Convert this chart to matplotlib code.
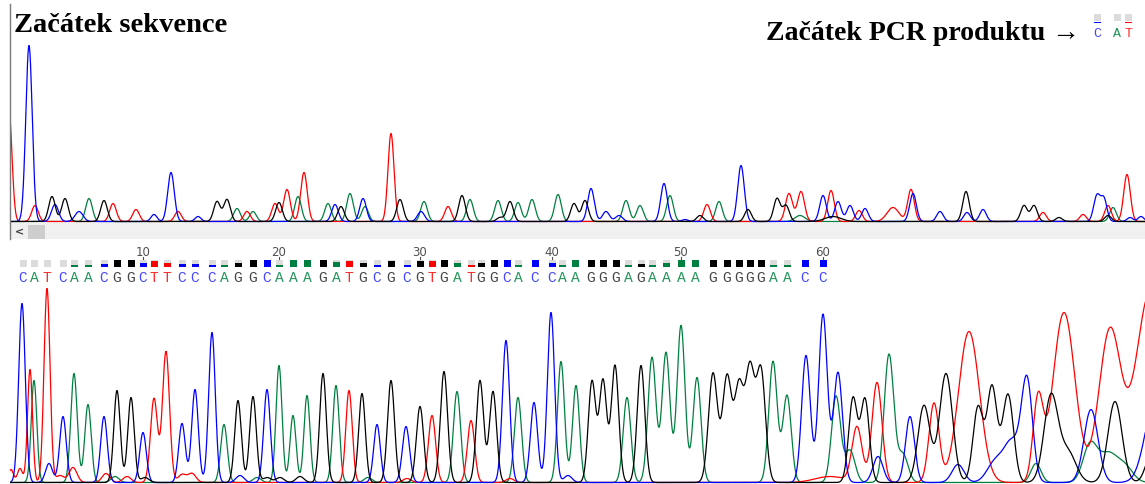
"""plot.py: sequencing chromatogram, start of read vs start of PCR product."""

import numpy as np
import matplotlib as mpl
import matplotlib.pyplot as plt
from matplotlib.patches import Rectangle

mpl.rcParams['font.family'] = ['DejaVu Sans']

# --- data -------------------------------------------------------------
# peaks per channel: (scan position, height, width)
top_a = [(89, 23, 3.3), (237, 13, 3.3), (253, 10, 3.3), (298, 25, 3.3), (328, 18, 3.3),
         (350, 28, 3.3), (365, 15, 3.3), (424, 20, 3.3), (470, 22, 3.3), (498, 21, 3.3),
         (518, 19, 3.3), (532, 22, 3.3), (558, 27, 3.3), (626, 21, 3.3), (640, 16, 3.3),
         (670, 26, 3.3), (719, 20, 3.3), (800, 6, 5), (1113, 14, 3.3)]
top_c = [(29, 176, 3.2), (55, 17, 3.5), (79, 10, 4), (154, 7, 3), (171, 49, 3.3),
         (198, 5, 3), (335, 17, 3.3), (363, 23, 3.3), (421, 10, 3.5), (591, 33, 3.3),
         (606, 10, 3.5), (619, 6, 3.5), (664, 38, 3.3), (685, 2, 3), (741, 56, 3.3),
         (823, 26, 3.3), (838, 20, 3.3), (850, 16, 3.3), (865, 13, 3.3), (913, 28, 3.3),
         (940, 10, 3.3), (967, 9, 3.3), (983, 12, 3.3), (1097, 26, 3.3), (1104, 22, 3),
         (1130, 4, 3), (1141, 5, 3)]
top_g = [(52, 25, 3.3), (65, 23, 3.3), (104, 21, 3.3), (217, 20, 3.3), (227, 22, 3.3),
         (279, 19, 3.3), (341, 15, 3.3), (400, 22, 3.3), (462, 26, 3.3), (500, 4, 3.3),
         (510, 20, 3.3), (574, 18, 3.3), (585, 21, 3.3), (700, 6, 3.3), (748, 12, 3.3),
         (777, 23, 3.3), (786, 16, 3.3), (833, 5, 8), (966, 30, 3.3), (1024, 16, 3.3),
         (1034, 16, 3.3), (1059, 4, 3.3), (1108, 6, 3.3)]
top_t = [(9, 110, 3), (35, 16, 3.3), (113, 18, 3.3), (136, 12, 3.3), (178, 10, 3.3),
         (247, 10, 3.3), (275, 18, 3.3), (287, 32, 3.3), (304, 49, 3.3), (391, 88, 3),
         (448, 15, 3.3), (707, 17, 3.3), (789, 28, 3.5), (801, 30, 3.5), (831, 31, 3.3),
         (859, 11, 3.3), (893, 14, 6), (911, 32, 3.3), (1043, 9, 3.3), (1083, 7, 3.3),
         (1108, 16, 3.3), (1127, 47, 3.3)]

bot_a = [(34, 102, 2.8), (74, 109, 3.2), (88, 78, 3.2), (115, 6, 4), (224, 58, 3.3),
         (257, 5, 4), (279, 117, 3), (293, 67, 3), (307, 87, 3), (336, 97, 3.2),
         (368, 5, 4), (457, 91, 3.6), (518, 85, 3.6), (561, 121, 3.5), (576, 97, 3.5),
         (627, 85, 3.8), (652, 125, 4), (666, 130, 4), (681, 157, 4), (697, 105, 4),
         (773, 121, 4.2), (787, 87, 4.2), (836, 86, 4.5), (850, 32, 5), (889, 128, 4.8),
         (903, 28, 5), (1036, 19, 5), (1090, 37, 7), (1108, 28, 9), (1125, 15, 8)]
bot_c = [(22, 179, 3.3), (49, 19, 3.5), (63, 66, 3.3), (104, 66, 3.3), (143, 50, 3.3),
         (182, 59, 3.3), (195, 93, 3.3), (212, 150, 3.3), (240, 7, 4), (267, 93, 3.3),
         (377, 58, 3.3), (406, 56, 3.6), (506, 142, 3.6), (534, 80, 3.6), (551, 170, 3.6),
         (568, 7, 4), (806, 127, 4.3), (823, 168, 4.3), (838, 110, 4.5), (878, 26, 5),
         (910, 66, 4.5), (958, 18, 6), (995, 20, 8), (1012, 40, 8), (1027, 100, 5.5),
         (1091, 73, 7), (1155, 80, 10)]
bot_g = [(117, 92, 3.2), (131, 85, 3.2), (145, 5, 4), (238, 82, 3.3), (253, 86, 3.3),
         (267, 5, 4), (280, 5, 4), (300, 6, 4), (323, 109, 3.3), (362, 89, 3.3),
         (391, 102, 3.5), (420, 76, 3.6), (444, 111, 3.6), (480, 102, 3.6), (493, 91, 3.6),
         (592, 101, 3.7), (603, 102, 3.7), (615, 117, 3.7), (641, 117, 3.8), (713, 109, 4.5),
         (727, 105, 4.5), (739, 95, 4.5), (750, 111, 4.5), (761, 111, 4.5), (853, 84, 4.3),
         (865, 83, 4.3), (924, 77, 6), (946, 109, 6.5), (978, 75, 5), (992, 95, 5),
         (1008, 88, 5.5), (1051, 86, 7), (1068, 30, 8), (1115, 81, 7), (1152, 30, 6)]
bot_t = [(11, 13, 2.5), (20, 14, 2.5), (30, 113, 2.5), (47, 194, 3), (60, 7, 4),
         (73, 15, 4), (106, 9, 4), (127, 6, 4), (154, 84, 3.5), (166, 131, 3.5),
         (182, 8, 4), (192, 9, 4), (349, 92, 3.2), (407, 4, 4), (432, 67, 3.6),
         (471, 62, 3.6), (510, 4, 4), (830, 6, 15), (857, 55, 5), (877, 100, 5),
         (934, 79, 5), (969, 151, 10.5), (1038, 80, 5), (1064, 170, 11),
         (1110, 152, 11), (1150, 190, 14)]

# base calls
bases = "CATCAACGGCTTCCCAGGCAAAGATGCGCGTGATGGCACCAAGGGAGAAAAGGGGGAACC"
base_pos = [23, 34, 47, 63, 74, 88, 104, 117, 131, 143,
            154, 167, 182, 195, 212, 224, 238, 253, 267, 279,
            293, 307, 323, 336, 349, 363, 377, 391, 407, 420,
            432, 444, 457, 471, 481, 494, 507, 518, 535, 552,
            562, 575, 591, 603, 616, 628, 641, 652, 666, 681,
            695, 713, 727, 739, 750, 761, 773, 787, 805, 823]
quality = [0, 0, 0, 0, .25, .25, .4, 1, 1, .6,
           .8, .6, .4, .4, .3, .3, .6, 1, 1, .3,
           1, 1, 1, .7, .9, .55, .3, .9, .35, .85,
           .9, 1, .55, .2, .55, 1, 1, .35, 1, .6,
           .35, 1, 1, 1, 1, .35, .5, .2, .6, 1,
           1, 1, 1, 1, 1, 1, .35, .35, 1, 1]
tick_every = 10

# the three bases shown next to the PCR-product label
pcr_bases = "CAT"
pcr_quality = [.25, 0, .25]

title_left = "Začátek sekvence"
title_right = "Začátek PCR produktu \u2192"

# --- style ------------------------------------------------------------
W, H = 1145, 485
trace_col = {'A': '#008040', 'C': '#0000ff', 'G': '#000000', 'T': '#ff0000'}
letter_col = {'A': '#22965a', 'C': '#4646ff', 'G': '#454545', 'T': '#ff2a2a'}
XMIN, XMAX = 10, 1145


def px_axes(fig, x0, y0, x1, y1):
    """axes from a pixel box (top-left origin)"""
    return fig.add_axes([x0 / W, 1 - y1 / H, (x1 - x0) / W, (y1 - y0) / H])


def trace(xs, peaks):
    y = np.zeros_like(xs)
    for p, h, w in peaks:
        y += h * np.exp(-0.5 * ((xs - p) / w) ** 2)
    return y


def draw_traces(ax, chans):
    xs = np.arange(0, 1170, 0.25)
    for b in ['A', 'T', 'C', 'G']:
        ax.plot(xs, trace(xs, chans[b]), color=trace_col[b], lw=0.9,
                solid_joinstyle='round')


def main():
    fig = plt.figure(figsize=(W / 100, H / 100), dpi=100)
    fig.patch.set_facecolor('white')

    # top trace
    ax1 = px_axes(fig, XMIN, 4, XMAX, 224)
    draw_traces(ax1, {'A': top_a, 'C': top_c, 'G': top_g, 'T': top_t})
    ax1.set_xlim(XMIN, XMAX)
    ax1.set_ylim(-1.5, 218.5)
    ax1.axis('off')

    # scrollbar
    sb = px_axes(fig, XMIN, 224, XMAX, 240)
    sb.set_xlim(XMIN, XMAX)
    sb.set_ylim(240, 224)
    sb.set_facecolor('#f0f0f0')
    sb.add_patch(Rectangle((28, 226), 17, 14, color='#cdcdcd', lw=0))
    sb.text(19, 232, '<', ha='center', va='center', fontsize=8, color='#404040',
            fontweight='bold')
    sb.set_xticks([])
    sb.set_yticks([])
    for s in sb.spines.values():
        s.set_visible(False)

    # left border line of the viewer
    fig.add_artist(plt.Line2D([10.5 / W, 10.5 / W], [1 - 240 / H, 1 - 5 / H],
                              color='#7a7a7a', lw=1.0))

    # base calls
    ax2 = px_axes(fig, XMIN, 244, XMAX, 286)
    ax2.set_xlim(XMIN, XMAX)
    ax2.set_ylim(286, 244)
    ax2.axis('off')
    for i, (b, x, q) in enumerate(zip(bases, base_pos, quality)):
        ax2.add_patch(Rectangle((x - 3.5, 261), 7, 7, color='#dcdcdc', lw=0))
        if q > 0:
            hq = max(1.6, 7 * q)
            ax2.add_patch(Rectangle((x - 3.5, 268 - hq), 7, hq,
                                    color=trace_col[b], lw=0))
        ax2.text(x, 278.5, b, ha='center', va='center', fontsize=10.5,
                 family='Liberation Mono', color=letter_col[b])
        if (i + 1) % tick_every == 0:
            ax2.text(x, 253, str(i + 1), ha='center', va='center', fontsize=8.5,
                     color='#505050')
            ax2.plot([x, x], [258, 259.5], color='#505050', lw=0.8)

    # bottom trace
    ax3 = px_axes(fig, XMIN, 285, XMAX, 485)
    draw_traces(ax3, {'A': bot_a, 'C': bot_c, 'G': bot_g, 'T': bot_t})
    ax3.set_xlim(XMIN, XMAX)
    ax3.set_ylim(-1.5, 198.5)
    ax3.axis('off')

    # labels
    fig.text(14 / W, 1 - 32 / H, title_left, family='Liberation Serif',
             fontweight='bold', fontsize=20.5, va='baseline', ha='left')
    fig.text(1080 / W, 1 - 40 / H, title_right, family=['Liberation Serif', 'DejaVu Serif'],
             fontweight='bold', fontsize=20, va='baseline', ha='right')

    # small base-call snippet next to the right label
    ax4 = px_axes(fig, 1085, 10, 1140, 42)
    ax4.set_xlim(1085, 1140)
    ax4.set_ylim(42, 10)
    ax4.axis('off')
    for b, x, q in zip(pcr_bases, [1097, 1117, 1128], pcr_quality):
        ax4.add_patch(Rectangle((x - 3.5, 15), 7, 7, color='#dcdcdc', lw=0))
        if q > 0:
            ax4.add_patch(Rectangle((x - 3.5, 22.5), 7, 1.6, color=trace_col[b], lw=0))
        ax4.text(x, 34, b, ha='center', va='center', fontsize=9.5,
                 family='Liberation Mono', color=letter_col[b])

    fig.savefig('out.png', dpi=100, facecolor='white')


if __name__ == '__main__':
    main()
